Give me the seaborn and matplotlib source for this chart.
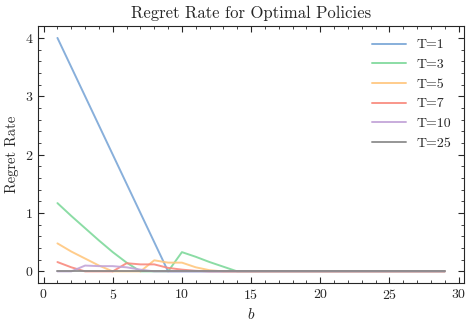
import numpy as np
import pandas as pd
import matplotlib
matplotlib.use("Agg")
import matplotlib.pyplot as plt
import seaborn as sns
from matplotlib.ticker import MultipleLocator

b_values = list(range(1, 30))

# regret rate per horizon T (zero after the listed points)
t1 = [4.0, 3.5, 3.0, 2.5, 2.0, 1.5, 1.0, 0.5, 0.0]
t3 = [1.17, 0.95, 0.74, 0.53, 0.33, 0.15, 0.0, 0.0, 0.0, 0.33, 0.25, 0.16, 0.08, 0.0]
t5 = [0.48, 0.34, 0.22, 0.10, 0.0, 0.0, 0.0, 0.19, 0.15, 0.15, 0.07, 0.02, 0.0]
t7 = [0.16, 0.07, 0.0, 0.0, 0.0, 0.14, 0.12, 0.12, 0.06, 0.03, 0.01, 0.0]
t10 = [0.0, 0.0, 0.10, 0.09, 0.09, 0.07, 0.03, 0.0]
t25 = [0.0]

series = {"T=1": t1, "T=3": t3, "T=5": t5, "T=7": t7, "T=10": t10, "T=25": t25}
colors = ["#7ba7d7", "#7fd99b", "#ffc77f", "#f98a7e", "#c2a4d8", "#8a8a8a"]

rows = []
for name, vals in series.items():
    full = vals + [0.0] * (len(b_values) - len(vals))
    for b, v in zip(b_values, full):
        rows.append({"b": b, "regret": v, "T": name})
df = pd.DataFrame(rows)

sns.set_style("ticks")
plt.rcParams["font.family"] = ["cmr10", "DejaVu Serif"]
plt.rcParams["mathtext.fontset"] = "cm"
plt.rcParams["axes.formatter.use_mathtext"] = True
plt.rcParams["axes.unicode_minus"] = False

fig, ax = plt.subplots(figsize=(4.76, 3.28), dpi=100)
sns.lineplot(data=df, x="b", y="regret", hue="T", palette=colors,
             hue_order=list(series.keys()), lw=1.4, alpha=0.9, ax=ax)

ax.set_title("Regret Rate for Optimal Policies", fontsize=12)
ax.set_xlabel("$b$", fontsize=11)
ax.set_ylabel("Regret Rate", fontsize=10.5)
ax.xaxis.set_major_locator(MultipleLocator(5))
ax.xaxis.set_minor_locator(MultipleLocator(1))
ax.yaxis.set_major_locator(MultipleLocator(1))
ax.yaxis.set_minor_locator(MultipleLocator(0.2))
ax.tick_params(which="both", direction="in", top=True, right=True, labelsize=10)
ax.tick_params(which="major", length=4)
ax.tick_params(which="minor", length=2)
for s in ax.spines.values():
    s.set_linewidth(0.8)
ax.legend(frameon=False, fontsize=10, loc="upper right", handlelength=2.4)

plt.subplots_adjust(left=0.08, right=0.975, top=0.92, bottom=0.137)
plt.savefig("out.png", dpi=100)
plt.close()
